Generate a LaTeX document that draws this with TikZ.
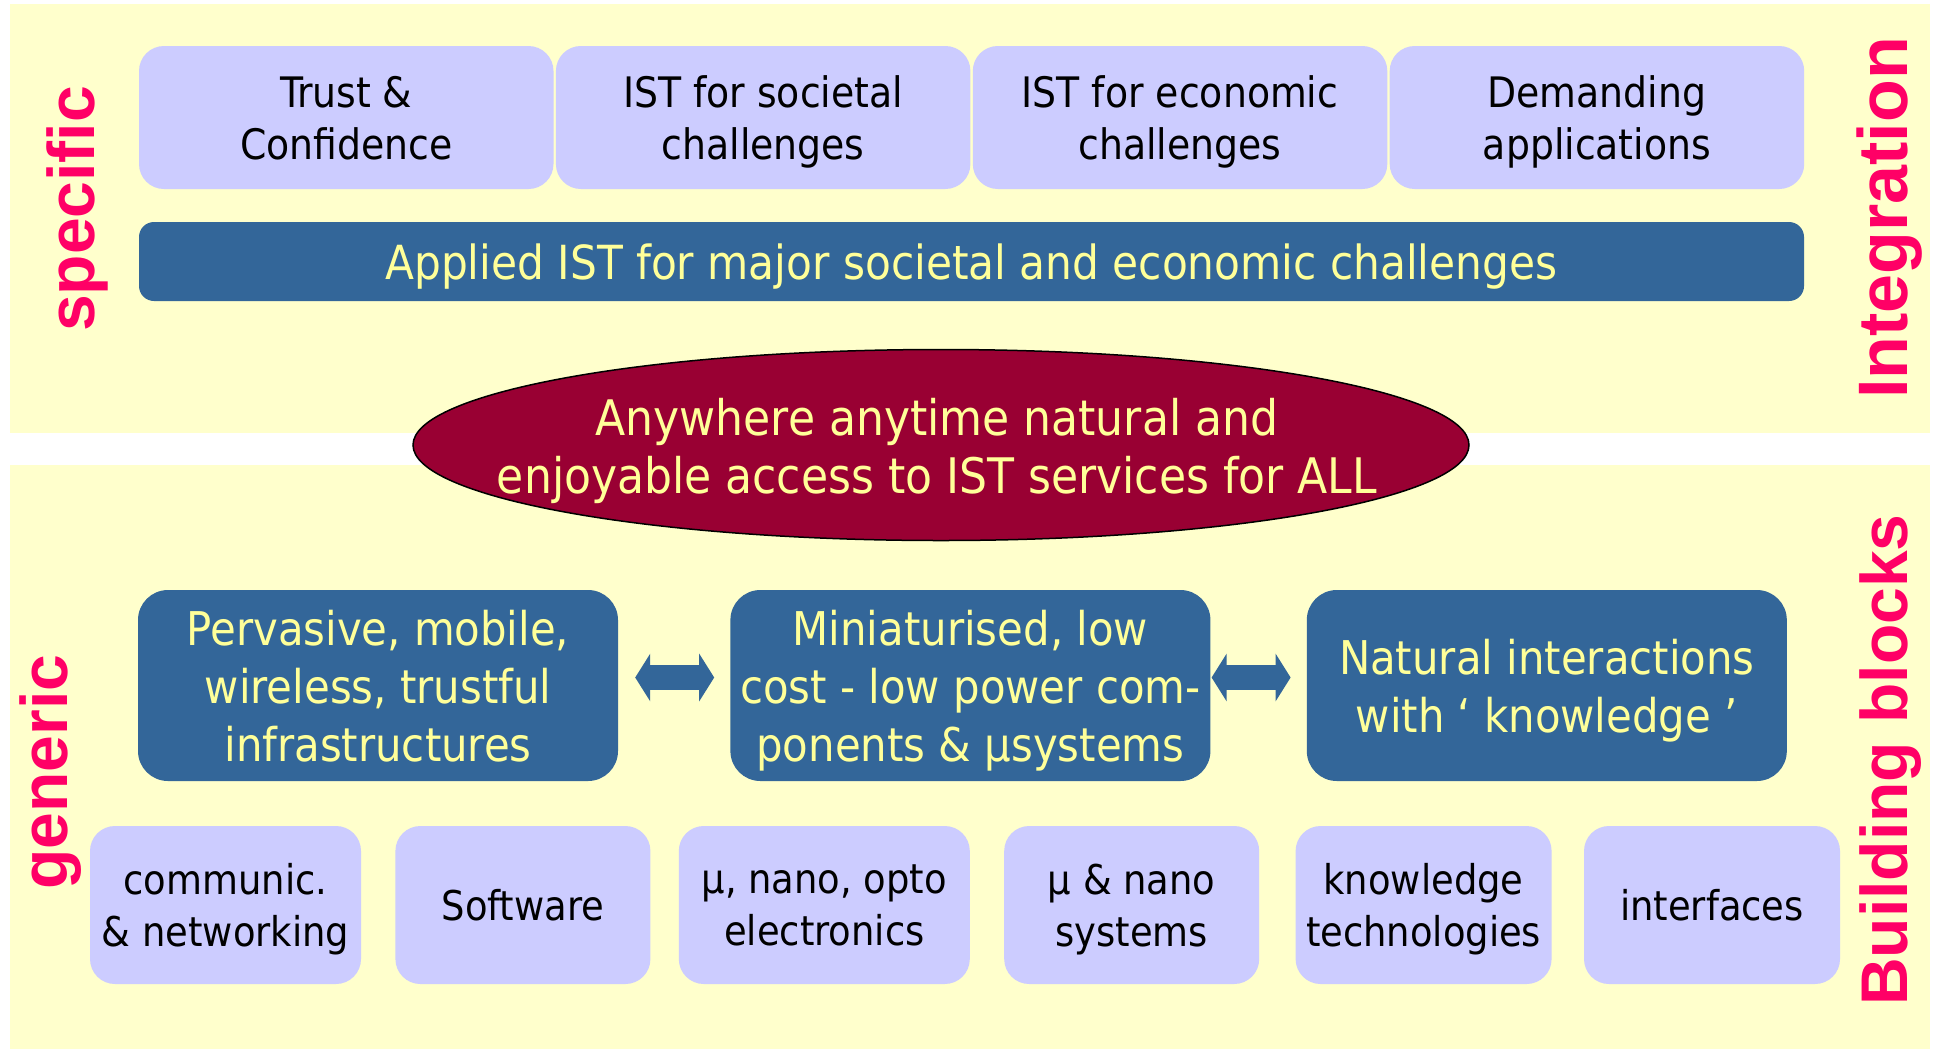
\documentclass[tikz,border=0pt]{standalone}
\usepackage{fontspec}
\setmainfont{DejaVu Sans Condensed}
\newfontfamily\sidefont{Liberation Sans}
\usetikzlibrary{positioning,shapes.geometric,arrows.meta}
\definecolor{panelyellow}{HTML}{FFFFCC}
\definecolor{lavender}{HTML}{CCCCFF}
\definecolor{steelblue}{HTML}{336699}
\definecolor{paleyellow}{HTML}{FFFF99}
\definecolor{wine}{HTML}{990033}
\definecolor{hotpink}{HTML}{FF0066}
\begin{document}
\begin{tikzpicture}[x=1pt,y=-1pt,
    lavbox/.style={rounded corners=25pt,fill=lavender,align=center,inner sep=0pt,text depth=0pt,
      font=\fontsize{42}{52}\selectfont},
    blockbox/.style={lavbox,minimum height=158pt,font=\fontsize{41}{52}\selectfont},
    bluebox/.style={rounded corners=30pt,fill=steelblue,text=paleyellow,align=center,inner sep=0pt,text depth=0pt,
      minimum width=480pt,minimum height=191pt,font=\fontsize{46.5}{58}\selectfont},
    sidelabel/.style={rotate=90,anchor=base,text=hotpink,font=\sidefont\bfseries\fontsize{66}{66}\selectfont},
    dblarrow/.style={line width=25pt,steelblue,
      {Triangle[length=15pt,width=47pt]}-{Triangle[length=15pt,width=47pt]}}]
  \useasboundingbox (0,0) rectangle (1934,1050);
  % two panels
  \fill[panelyellow] (10,4) rectangle (1930,433);
  \fill[panelyellow] (10,465) rectangle (1930,1049);
  % specific
  \node[lavbox,minimum width=414.5pt,minimum height=143pt] (trust) at (346.25,117.5) {Trust \&\\Confidence};
  \node[lavbox,minimum width=414.5pt,minimum height=143pt,right=2pt of trust] (soc) {IST for societal\\challenges};
  \node[lavbox,minimum width=414.5pt,minimum height=143pt,right=2pt of soc] (eco) {IST for economic\\challenges};
  \node[lavbox,minimum width=414.5pt,minimum height=143pt,right=2pt of eco] (dem) {Demanding\\applications};
  \node[rounded corners=15pt,fill=steelblue,text=paleyellow,minimum width=1665pt,minimum height=79pt,
    inner sep=0pt,text depth=0pt,font=\fontsize{47}{52}\selectfont] (applied) at (971.5,261.5)
    {Applied IST for major societal and economic challenges};
  \node[ellipse,draw=black,line width=1.5pt,fill=wine,minimum width=1056pt,minimum height=191pt,
    inner sep=0pt] (access) at (941,445) {};
  \node[text=paleyellow,align=center,font=\fontsize{49}{58}\selectfont] at ([xshift=-4pt,yshift=-6pt]access.center)
    {Anywhere anytime natural and\\enjoyable access to IST services for ALL};
  % generic
  \node[bluebox] (pervasive) at (378,685.5) {Pervasive, mobile,\\wireless, trustful\\infrastructures};
  \node[bluebox,right=112pt of pervasive] (mini) {Miniaturised, low\\cost - low power com-\\ponents \& µsystems};
  \node[bluebox,right=96pt of mini] (natural) {Natural interactions\\with ‘ knowledge ’};
  \draw[dblarrow] ([xshift=17pt,yshift=8pt]pervasive.east) -- ([xshift=-16pt,yshift=8pt]mini.west);
  \draw[dblarrow] ([xshift=1pt,yshift=8pt]mini.east) -- ([xshift=-16pt,yshift=8pt]natural.west);
  \node[blockbox,minimum width=271pt] (comm) at (225.5,905) {communic.\\\& networking};
  \node[blockbox,minimum width=255pt,right=34pt of comm] (soft) {Software};
  \node[blockbox,minimum width=291pt,right=28pt of soft] (opto) {µ, nano, opto\\electronics};
  \node[blockbox,minimum width=255pt,right=34pt of opto] (nanosys) {µ \& nano\\systems};
  \node[blockbox,minimum width=256pt,right=36pt of nanosys] (know) {knowledge\\technologies};
  \node[blockbox,minimum width=256pt,right=32pt of know] (inter) {interfaces};
  % side labels
  \node[sidelabel] (specific) at (94,209) {specific};
  \node[sidelabel] (generic) at (67,772) {generic};
  \node[sidelabel,font=\sidefont\bfseries\fontsize{70}{70}\selectfont] (integ) at (1907,218) {Integration};
  \node[sidelabel] (build) at (1907,760) {Building blocks};
\end{tikzpicture}
\end{document}
